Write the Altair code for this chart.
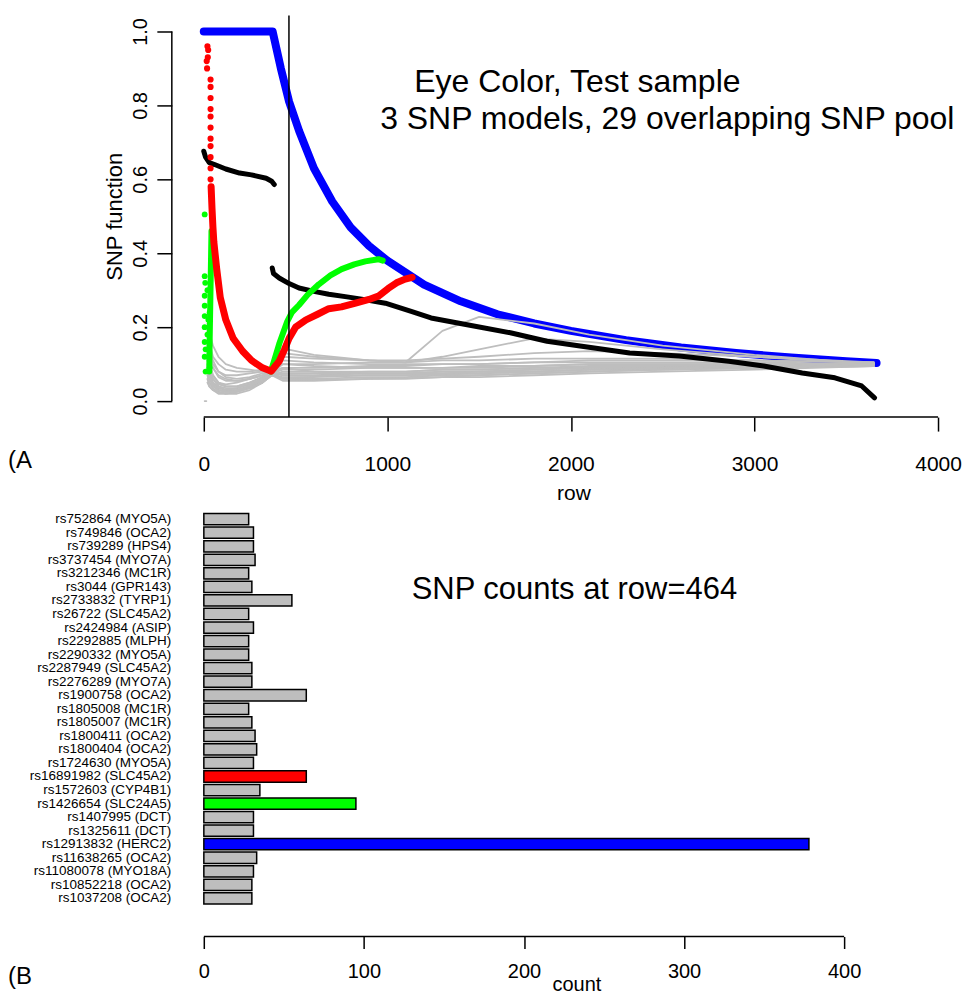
import altair as alt
import pandas as pd

# ---------------- Panel A data ----------------
cut_row = 464

x_tick_values = [0, 1000, 2000, 3000, 4000]
y_tick_values = [0.0, 0.2, 0.4, 0.6, 0.8, 1.0]

blue_rows = [0, 100, 200, 300, 375, 420, 465, 520, 600, 700, 800, 900, 1000, 1200,
             1400, 1600, 1800, 2000, 2300, 2600, 2900, 3200, 3500, 3665]
blue_vals = [1.0, 1.0, 1.0, 1.0, 1.0, 0.90, 0.81, 0.73, 0.63, 0.54, 0.47, 0.42, 0.38, 0.315,
             0.27, 0.235, 0.21, 0.19, 0.165, 0.145, 0.13, 0.118, 0.108, 0.103]

red_dot_rows = [16, 20, 24, 18, 22, 37, 37, 37, 37, 37, 37, 37, 37, 37, 37, 37]
red_dot_vals = [0.92, 0.96, 0.95, 0.90, 0.93, 0.87, 0.85, 0.82, 0.79, 0.77, 0.74, 0.71,
                0.69, 0.66, 0.63, 0.60]

red_rows = [40, 45, 50, 55, 70, 90, 120, 160, 212, 260, 320, 368, 390, 411, 440, 465, 500,
            557, 620, 681, 750, 827, 900, 951, 1005, 1050, 1097, 1135]
red_vals = [0.58, 0.52, 0.47, 0.43, 0.36, 0.28, 0.22, 0.17, 0.135, 0.11, 0.09, 0.081, 0.095,
            0.108, 0.14, 0.17, 0.20, 0.22, 0.235, 0.25, 0.255, 0.265, 0.275, 0.284, 0.305,
            0.32, 0.33, 0.335]

green_dot_rows = [5, 5, 8, 5, 5, 32, 5, 5, 20, 5, 10, 5, 32, 10, 20, 25]
green_dot_vals = [0.505, 0.338, 0.32, 0.285, 0.258, 0.24, 0.23, 0.20, 0.18, 0.16, 0.14,
                  0.12, 0.09, 0.08, 0.30, 0.22]

green_a_rows = [30, 32, 34, 36, 38, 40, 42]
green_a_vals = [0.08, 0.16, 0.22, 0.28, 0.34, 0.40, 0.46]

green_b_rows = [365, 390, 411, 455, 480, 519, 570, 627, 690, 751, 820, 880, 951, 975]
green_b_vals = [0.08, 0.12, 0.155, 0.216, 0.24, 0.26, 0.29, 0.316, 0.34, 0.357, 0.37,
                0.378, 0.384, 0.38]

black_a_rows = [0, 10, 30, 59, 120, 195, 260, 340, 370, 384]
black_a_vals = [0.676, 0.66, 0.645, 0.64, 0.628, 0.617, 0.612, 0.603, 0.595, 0.586]

black_b_rows = [373, 380, 411, 465, 519, 600, 681, 780, 860, 989, 1130, 1238, 1420, 1670,
                1870, 2050, 2320, 2590, 2860, 3050, 3260, 3438, 3584, 3654]
black_b_vals = [0.36, 0.345, 0.333, 0.318, 0.306, 0.297, 0.289, 0.282, 0.276, 0.265, 0.243,
                0.225, 0.208, 0.185, 0.162, 0.149, 0.13, 0.122, 0.108, 0.095, 0.076, 0.063,
                0.041, 0.009]

grey_rows = [20, 30, 50, 80, 120, 180, 250, 320, 370, 430, 600, 900, 1100, 1300, 1500, 1800,
             2100, 2500, 3000, 3650]
grey_01 = [.21, .19, .15, .12, .10, .09, .085, .08, .08, .143, .125, .11, .105, .19, .228, .21, .18, .15, .125, .10]
grey_02 = [.18, .15, .11, .08, .07, .07, .075, .08, .08, .13, .12, .11, .105, .12, .14, .17, .16, .14, .12, .10]
grey_03 = [.16, .13, .10, .08, .065, .06, .065, .075, .08, .12, .115, .11, .11, .115, .12, .13, .135, .13, .12, .105]
grey_04 = [.14, .10, .06, .045, .04, .04, .05, .065, .075, .075, .075, .08, .08, .085, .085, .09, .09, .095, .095, .10]
grey_05 = [.12, .08, .05, .035, .03, .035, .045, .06, .075, .07, .07, .075, .075, .08, .08, .085, .09, .09, .095, .095]
grey_06 = [.10, .06, .04, .03, .025, .03, .04, .055, .07, .065, .065, .07, .07, .075, .075, .08, .085, .085, .09, .095]
grey_07 = [.08, .05, .035, .025, .02, .025, .035, .05, .07, .06, .06, .065, .065, .07, .07, .075, .08, .085, .09, .095]
grey_08 = [.06, .04, .03, .02, .02, .02, .03, .05, .07, .055, .055, .06, .06, .065, .065, .07, .075, .08, .085, .095]
grey_09 = [.13, .11, .09, .07, .06, .055, .06, .07, .08, .10, .10, .105, .105, .11, .11, .115, .115, .115, .11, .105]
grey_10 = [.11, .09, .07, .05, .04, .04, .05, .065, .08, .09, .09, .095, .095, .10, .10, .105, .105, .105, .105, .10]
grey_11 = [.09, .07, .05, .04, .035, .035, .045, .06, .075, .085, .085, .09, .09, .09, .09, .095, .10, .10, .10, .10]
grey_12 = [.07, .05, .04, .03, .03, .03, .04, .055, .07, .08, .08, .08, .08, .085, .085, .09, .095, .095, .10, .10]
grey_13 = [.05, .04, .03, .025, .02, .025, .035, .05, .07, .075, .075, .075, .075, .08, .08, .085, .09, .09, .095, .10]
grey_14 = [.20, .16, .12, .10, .085, .08, .08, .085, .085, .11, .105, .10, .10, .10, .10, .105, .11, .11, .11, .105]
grey_15 = [.16, .11, .07, .05, .045, .05, .06, .07, .08, .07, .068, .07, .07, .072, .075, .08, .085, .09, .095, .10]
grey_16 = [.15, .10, .06, .04, .03, .03, .04, .06, .075, .10, .095, .09, .09, .09, .095, .095, .10, .10, .10, .10]
grey_17 = [.12, .07, .045, .03, .025, .028, .04, .06, .078, .09, .08, .075, .075, .075, .08, .08, .085, .09, .095, .10]
grey_18 = [.19, .14, .09, .065, .055, .055, .06, .07, .08, .06, .058, .06, .062, .065, .07, .075, .08, .085, .09, .10]
grey_dash_rows = [5, 14]
grey_dash_vals = [0.0, 0.0]

title_line1 = "Eye Color, Test sample"
title_line2 = "3 SNP models, 29 overlapping SNP pool"
panel_a_tag = "(A"
panel_b_tag = "(B"

# ---------------- Panel B data ----------------
snp_labels = [
    "rs752864 (MYO5A)", "rs749846 (OCA2)", "rs739289 (HPS4)", "rs3737454 (MYO7A)",
    "rs3212346 (MC1R)", "rs3044 (GPR143)", "rs2733832 (TYRP1)", "rs26722 (SLC45A2)",
    "rs2424984 (ASIP)", "rs2292885 (MLPH)", "rs2290332 (MYO5A)", "rs2287949 (SLC45A2)",
    "rs2276289 (MYO7A)", "rs1900758 (OCA2)", "rs1805008 (MC1R)", "rs1805007 (MC1R)",
    "rs1800411 (OCA2)", "rs1800404 (OCA2)", "rs1724630 (MYO5A)", "rs16891982 (SLC45A2)",
    "rs1572603 (CYP4B1)", "rs1426654 (SLC24A5)", "rs1407995 (DCT)", "rs1325611 (DCT)",
    "rs12913832 (HERC2)", "rs11638265 (OCA2)", "rs11080078 (MYO18A)", "rs10852218 (OCA2)",
    "rs1037208 (OCA2)",
]
snp_counts = [28, 31, 31, 32, 28, 30, 55, 28, 31, 28, 28, 30, 30, 64, 28, 30, 32, 33, 31,
              64, 35, 95, 31, 31, 378, 33, 31, 30, 30]
count_tick_values = [0, 100, 200, 300, 400]
bottom_title = f"SNP counts at row={cut_row}"

# ---------------- styling ----------------
FONT = "Liberation Sans"
GREY = "#bebebe"
model_colors = {
    "rs16891982 (SLC45A2)": "#ff0000",
    "rs1426654 (SLC24A5)": "#00ff00",
    "rs12913832 (HERC2)": "#0000ff",
}

W, H1, H2 = 781, 402, 418
B_OFFSET = 19
TAG_X = -164


def sdf(seg, rows, vals):
    return pd.DataFrame({"row": rows, "val": vals, "seg": seg})


x_scale = alt.Scale(domain=[-174, 4076], nice=False, zero=False)
y_scale = alt.Scale(domain=[-0.0432, 1.0432], nice=False, zero=False)

x_axis = alt.Axis(values=x_tick_values, format="d", domain=False, grid=False,
                  tickSize=14, tickWidth=1.5, tickColor="black",
                  labelFontSize=21, labelColor="black", labelBaseline="alphabetic",
                  labelPadding=39, labelFont=FONT,
                  title="row", titleFontSize=21, titleFontWeight="normal", titleColor="black",
                  titleBaseline="alphabetic", titleY=82, titleX=402, titleFont=FONT)
y_axis = alt.Axis(values=y_tick_values, format=".1f", domain=False, grid=False,
                  tickSize=15, tickWidth=1.5, tickColor="black",
                  labelFontSize=20, labelColor="black", labelAngle=270, labelAlign="center",
                  labelBaseline="alphabetic", labelPadding=10, labelFont=FONT,
                  title="SNP function", titleFontSize=22, titleFontWeight="normal",
                  titleColor="black", titleAngle=270, titleAlign="center",
                  titleBaseline="alphabetic", titleX=-50, titleY=201, titleFont=FONT)


def X(field="row:Q"):
    return alt.X(field, scale=x_scale, axis=x_axis)


def Y(field="val:Q"):
    return alt.Y(field, scale=y_scale, axis=y_axis)


def line_layer(df, color, width):
    return alt.Chart(df).mark_line(color=color, strokeWidth=width, strokeJoin="round",
                                   strokeCap="round", clip=True).encode(
        x=X(), y=Y(), detail="seg:N", order="row:Q")


grey_list = [grey_01, grey_02, grey_03, grey_04, grey_05, grey_06, grey_07, grey_08, grey_09,
             grey_10, grey_11, grey_12, grey_13, grey_14, grey_15, grey_16, grey_17, grey_18]
grey_df = pd.concat([sdf(f"g{i}", grey_rows, g) for i, g in enumerate(grey_list)] +
                    [sdf("gdash", grey_dash_rows, grey_dash_vals)], ignore_index=True)

blue_layer = line_layer(sdf("blue", blue_rows, blue_vals), "#0000ff", 8)
grey_layer = line_layer(grey_df, GREY, 1.8)
black_layer = line_layer(pd.concat([sdf("ka", black_a_rows, black_a_vals),
                                    sdf("kb", black_b_rows, black_b_vals)]), "black", 5)
red_layer = line_layer(sdf("red", red_rows, red_vals), "#ff0000", 7)
green_layer = line_layer(pd.concat([sdf("ga", green_a_rows, green_a_vals),
                                    sdf("gb", green_b_rows, green_b_vals)]), "#00ff00", 6)

red_dots = alt.Chart(sdf("rd", red_dot_rows, red_dot_vals)).mark_circle(
    color="#ff0000", size=38, opacity=1).encode(x=X(), y=Y())
green_dots = alt.Chart(sdf("gd", green_dot_rows, green_dot_vals)).mark_circle(
    color="#00ff00", size=34, opacity=1).encode(x=X(), y=Y())

cut_layer = alt.Chart(pd.DataFrame({"row": [cut_row]})).mark_rule(
    color="black", strokeWidth=1.5).encode(x=X())

xline = alt.Chart(pd.DataFrame({"row": [min(x_tick_values)], "row2": [max(x_tick_values)]})).mark_rule(
    color="black", strokeWidth=1.5).encode(x=X(), x2="row2:Q", y=alt.value(H1))
yline = alt.Chart(pd.DataFrame({"val": [min(y_tick_values)], "val2": [max(y_tick_values)]})).mark_rule(
    color="black", strokeWidth=1.5).encode(y=Y(), y2="val2:Q", x=alt.value(0))


def text_layer(txt, x, y, size, align="center"):
    return alt.Chart(pd.DataFrame({"t": [txt]})).mark_text(
        font=FONT, fontSize=size, color="black", align=align, baseline="alphabetic").encode(
        text="t:N", x=alt.value(x), y=alt.value(y))


top = alt.layer(
    blue_layer, grey_layer, black_layer, green_layer, red_layer, red_dots, green_dots,
    cut_layer, xline, yline,
    text_layer(title_line1, 406, 77, 32),
    text_layer(title_line2, 496, 114, 32),
    text_layer(panel_a_tag, TAG_X, 453, 24, align="left"),
).properties(width=W, height=H1)

# ---------------- Panel B ----------------
bar_df = pd.DataFrame({"snp": snp_labels, "count": snp_counts})
bar_colors = [model_colors.get(s, GREY) for s in snp_labels]

count_scale = alt.Scale(domain=[-20, 467.4], nice=False, zero=False)
count_axis = alt.Axis(values=count_tick_values, format="d", offset=B_OFFSET, domain=False,
                      grid=False, tickSize=12, tickWidth=1.5, tickColor="black",
                      labelFontSize=20, labelColor="black", labelFont=FONT,
                      labelBaseline="alphabetic", labelPadding=29,
                      title="count", titleFontSize=20, titleFontWeight="normal",
                      titleColor="black", titleFont=FONT, titleBaseline="alphabetic",
                      titleY=54, titleX=405)

bars = alt.Chart(bar_df).mark_bar(stroke="black", strokeWidth=1.5).encode(
    y=alt.Y("snp:N", sort=snp_labels,
            scale=alt.Scale(paddingInner=0.167, paddingOuter=1.0),
            axis=alt.Axis(title=None, ticks=False, domain=False, labelFontSize=13.5,
                          labelPadding=1, labelColor="black", labelFont=FONT,
                          labelLimit=400)),
    x=alt.X("count:Q", scale=count_scale, axis=count_axis),
    color=alt.Color("snp:N", scale=alt.Scale(domain=snp_labels, range=bar_colors), legend=None),
)

bline = alt.Chart(pd.DataFrame({"count": [min(count_tick_values)],
                                "count2": [max(count_tick_values)]})).mark_rule(
    color="black", strokeWidth=1.5).encode(
    x=alt.X("count:Q", scale=count_scale, axis=count_axis), x2="count2:Q",
    y=alt.value(H2 + B_OFFSET))

bottom = alt.layer(
    bars, bline,
    text_layer(bottom_title, 403, 99, 31),
    text_layer(panel_b_tag, TAG_X, 485, 24, align="left"),
).properties(width=W, height=H2)

chart = alt.vconcat(top, bottom, spacing=83, bounds="flush").properties(
    padding={"left": 0, "top": 6, "right": 0, "bottom": 0}
).configure(font=FONT).configure_view(stroke=None)

chart.save("out.html", embed_options={"renderer": "svg", "actions": False})
